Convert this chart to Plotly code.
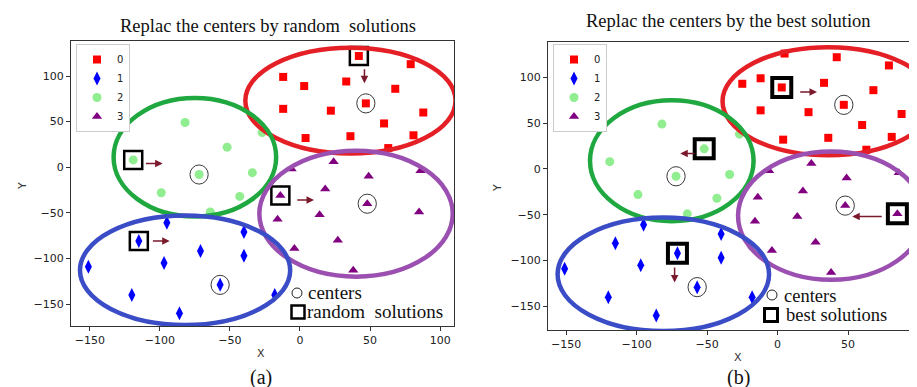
import plotly.graph_objects as go

# ---------------- data ----------------
labels = ["0", "1", "2", "3"]
colors = ["red", "blue", "lightgreen", "purple"]
symbols = ["square", "diamond-tall", "circle", "triangle-up"]
sizes = [8, 10, 9, 9]

# cluster 0 (red squares)
c0_x_a = [42, 79, -12, 3, 33, 68, -12, 22, 47, 88, 60, 4, 36, 81, 63]
c0_y_a = [122, 113, 99, 89, 94, 86, 64, 62, 70, 60, 48, 32, 34, 35, 21]
c0_x_b = [5, 42, 79, -25, -12, 3, 33, 68, -12, 22, 47, 88, 60, 4, 36, 81, 63]
c0_y_b = [126, 122, 113, 93, 99, 89, 94, 86, 64, 62, 70, 60, 48, 32, 34, 35, 21]
# cluster 1 (blue diamonds)
c1_x = [-95, -115, -40, -71, -97, -40, -151, -57, -120, -86, -18]
c1_y = [-61, -81, -71, -92, -105, -97, -109, -129, -140, -160, -140]
# cluster 2 (light green circles)
c2_x = [-82, -52, -27, -119, -72, -34, -99, -43, -64]
c2_y = [49, 22, 38, 8, -8, -6, -28, -32, -49]
# cluster 3 (purple triangles)
c3_x = [24, -6, 49, 86, 18, -14, 48, 14, -16, 85, 27, -4, 38]
c3_y = [6, -2, -10, -4, -24, -31, -40, -52, -57, -49, -80, -89, -113]

# centers (order: red, green, purple, blue)
center_x = [47, -72, 48, -57]
center_y = [70, -8, -40, -129]
# random solutions (panel a) and best solutions (panel b)
rand_x = [42, -119, -14, -115]
rand_y = [122, 8, -31, -81]
best_x = [3, -52, 85, -71]
best_y = [89, 22, -49, -92]

# arrows: tail -> head
arr_a_tail_x = [46, -111, -3, -106]
arr_a_tail_y = [109, 4, -36, -81]
arr_a_head_x = [46, -98, 10, -93]
arr_a_head_y = [92, 4, -36, -81]
arr_b_tail_x = [15, -58, 75, -73]
arr_b_tail_y = [84, 17, -52, -106]
arr_b_head_x = [28, -69, 53, -73]
arr_b_head_y = [84, 17, -52, -124]

# hand-drawn ellipses: cx, cy, rx, ry, colour
ell_colors = ["#e41f26", "#1fa83f", "#9b4fb0", "#3a4cc6"]
ell_a = [(36, 73, 75, 58), (-75, 11, 58, 65), (40, -51, 69, 69), (-82, -113, 75, 60)]
ell_b = [(36, 74, 75, 59), (-75, 9, 58, 66), (38, -51, 66, 70), (-81, -115, 75, 62)]

xticks = [-150, -100, -50, 0, 50, 100]
yticks = [-150, -100, -50, 0, 50, 100]

fig = go.Figure()


def add_panel(xa, ya, legend, c0x, c0y, sol_x, sol_y, box_size, box_w):
    data = [(c0x, c0y), (c1_x, c1_y), (c2_x, c2_y), (c3_x, c3_y)]
    for i, (xs, ys) in enumerate(data):
        fig.add_trace(go.Scatter(
            x=xs, y=ys, mode="markers", name=labels[i],
            marker=dict(color=colors[i], symbol=symbols[i], size=sizes[i],
                        line=dict(width=0)),
            xaxis=xa, yaxis=ya, legend=legend, showlegend=True))
    fig.add_trace(go.Scatter(
        x=sol_x, y=sol_y, mode="markers", showlegend=False,
        marker=dict(symbol="square-open", size=box_size, color="black",
                    line=dict(width=box_w, color="black")),
        xaxis=xa, yaxis=ya))


add_panel("x", "y", "legend", c0_x_a, c0_y_a, rand_x, rand_y, 18, 2.5)
add_panel("x2", "y2", "legend2", c0_x_b, c0_y_b, best_x, best_y, 19, 4)

shapes = []
for xr, yr, ells in (("x", "y", ell_a), ("x2", "y2", ell_b)):
    for (cx, cy, rx, ry), col in zip(ells, ell_colors):
        shapes.append(dict(type="circle", xref=xr, yref=yr,
                           x0=cx - rx, x1=cx + rx, y0=cy - ry, y1=cy + ry,
                           line=dict(color=col, width=4.5)))
    for cx, cy in zip(center_x, center_y):
        shapes.append(dict(type="circle", xref=xr, yref=yr,
                           x0=cx - 6.5, x1=cx + 6.5, y0=cy - 10.5, y1=cy + 10.5,
                           line=dict(color="#222", width=0.9)))

annotations = []
for xr, yr, tx, ty, hx, hy in (("x", "y", arr_a_tail_x, arr_a_tail_y, arr_a_head_x, arr_a_head_y),
                               ("x2", "y2", arr_b_tail_x, arr_b_tail_y, arr_b_head_x, arr_b_head_y)):
    for a, b, c, d in zip(tx, ty, hx, hy):
        annotations.append(dict(x=c, y=d, ax=a, ay=b, xref=xr, yref=yr,
                                axref=xr, ayref=yr, text="", showarrow=True,
                                arrowhead=2, arrowsize=1, arrowwidth=1.5,
                                arrowcolor="#7b1a2c"))

W, H = 917, 387
serif = "Liberation Serif, Times New Roman, serif"
sans = "DejaVu Sans, sans-serif"


def px_ann(text, x, y, size, family=serif, xanchor="center", angle=0, color="#111"):
    annotations.append(dict(text=text, x=x / W, y=1 - y / H, xref="paper", yref="paper",
                            showarrow=False, xanchor=xanchor, yanchor="middle",
                            textangle=angle, font=dict(family=family, size=size, color=color)))


px_ann("Replac the centers by random  solutions", 260, 18, 18.5)
px_ann("Replac the centers by the best solution", 720, 13, 18.5)
px_ann("(a)", 253, 369, 20)
px_ann("(b)", 730, 369, 20)
px_ann("X", 253, 345, 11, sans, color="#333")
px_ann("X", 730, 349, 11, sans, color="#333")
px_ann("Y", 14, 178, 11, sans, angle=-90, color="#333")
px_ann("Y", 490, 180, 11, sans, angle=-90, color="#333")
px_ann("centers", 298, 284, 19, xanchor="left")
px_ann("random  solutions", 297, 303, 19, xanchor="left")
px_ann("centers", 774, 288, 18.5, xanchor="left")
px_ann("best solutions", 776, 307, 18.5, xanchor="left")

# key glyphs of the bottom-right legends (paper pixel boxes)
for cx, cy, r in ((289, 285, 5), (764, 287, 5)):
    shapes.append(dict(type="circle", xref="paper", yref="paper",
                       x0=(cx - r) / W, x1=(cx + r) / W, y0=1 - (cy + r) / H, y1=1 - (cy - r) / H,
                       line=dict(color="#222", width=1)))
for cx, cy, r, w in ((290, 304, 6.5, 2.5), (763, 307, 6.5, 3)):
    shapes.append(dict(type="rect", xref="paper", yref="paper",
                       x0=(cx - r) / W, x1=(cx + r) / W, y0=1 - (cy + r) / H, y1=1 - (cy - r) / H,
                       line=dict(color="black", width=w)))

axis_common = dict(showgrid=False, zeroline=False, showline=True, linecolor="#333",
                   linewidth=1, ticks="outside", ticklen=4, tickcolor="#333",
                   tickfont=dict(family=sans, size=11, color="#222"), tickvals=xticks)

legend_common = dict(xanchor="left", yanchor="top", bgcolor="white",
                     bordercolor="#ccc", borderwidth=1,
                     font=dict(family=sans, size=10, color="#222"),
                     itemwidth=30, tracegroupgap=0)

fig.update_layout(
    width=W, height=H, margin=dict(l=0, r=0, t=0, b=0),
    paper_bgcolor="white", plot_bgcolor="white",
    xaxis=dict(axis_common, domain=[63 / W, 446 / W], range=[-163.4, 109.9], mirror=True, anchor="y"),
    yaxis=dict(axis_common, domain=[1 - 318 / H, 1 - 33 / H], range=[-174.1, 138.4], mirror=True,
               tickvals=yticks, anchor="x"),
    xaxis2=dict(axis_common, domain=[540 / W, 1.0], range=[-162.8, 104.6], mirror=True, anchor="y2"),
    yaxis2=dict(axis_common, domain=[1 - 322 / H, 1 - 34 / H], range=[-175.8, 138.6], mirror=False,
                tickvals=yticks, anchor="x2"),
    legend=dict(legend_common, x=68 / W, y=1 - 36 / H),
    legend2=dict(legend_common, x=545 / W, y=1 - 36 / H),
    shapes=shapes, annotations=annotations, showlegend=True,
)

fig.write_html("out.html")
